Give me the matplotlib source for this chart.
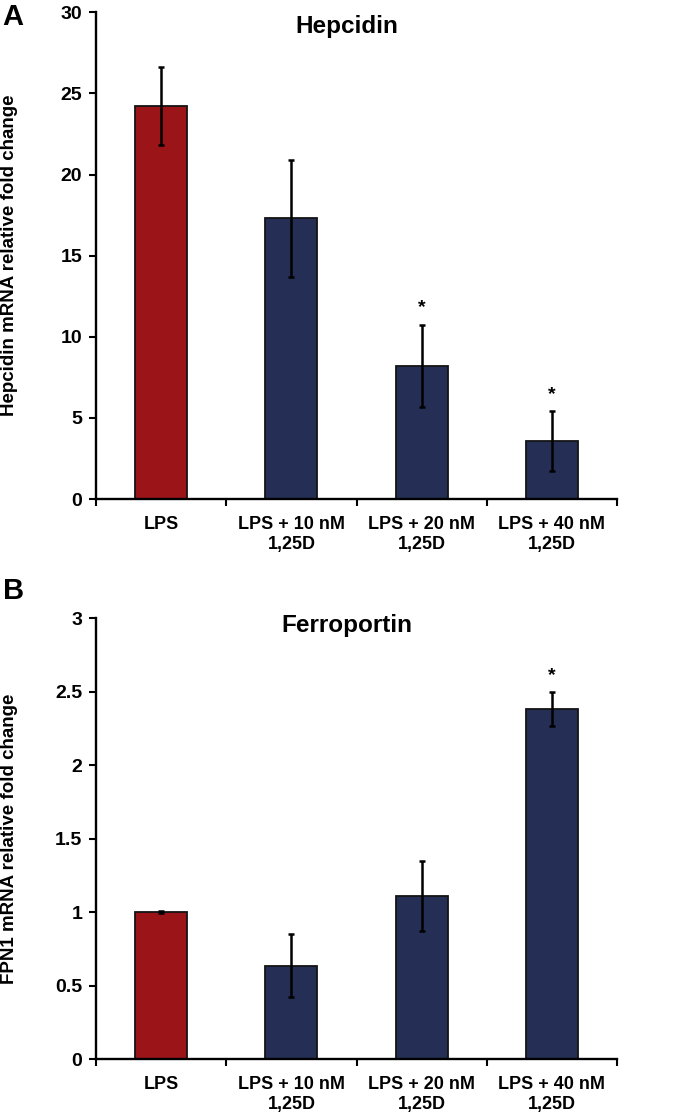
import matplotlib.pyplot as plt
import numpy as np

plt.rcParams['font.family'] = ['Liberation Sans', 'DejaVu Sans']
plt.rcParams['font.weight'] = 'bold'

categories = ['LPS', 'LPS + 10 nM\n1,25D', 'LPS + 20 nM\n1,25D', 'LPS + 40 nM\n1,25D']
bar_colors = ['#9a1418', '#252f55', '#252f55', '#252f55']

hepcidin = [24.2, 17.3, 8.2, 3.55]
hepcidin_err = [2.4, 3.6, 2.55, 1.85]
hepcidin_sig = [False, False, True, True]

fpn1 = [1.0, 0.635, 1.11, 2.38]
fpn1_err = [0.005, 0.215, 0.24, 0.115]
fpn1_sig = [False, False, False, True]


def draw_panel(ax, vals, errs, sig, ymax, step, title, title_y, ylabel):
    x = np.arange(len(vals))
    ax.bar(x, vals, width=0.4, color=bar_colors, edgecolor='#141414', linewidth=1.3,
           yerr=errs, error_kw=dict(ecolor='black', elinewidth=1.8, capsize=2.5, capthick=1.8))
    for i in range(len(vals)):
        if sig[i]:
            ax.annotate('*', (x[i], vals[i] + errs[i]), xytext=(0, 9),
                        textcoords='offset points', ha='center', va='baseline',
                        fontsize=14, fontweight='bold')
    ax.set_xlim(-0.5, len(vals) - 0.5)
    ax.set_ylim(0, ymax)
    yt = np.arange(0, ymax + step / 2, step)
    ax.set_yticks(yt)
    ax.set_yticklabels(['%g' % v for v in yt], fontsize=14)
    ax.set_xticks(np.arange(-0.5, len(vals), 1.0))
    ax.set_xticklabels([])
    ax.set_xticks(x, minor=True)
    ax.set_xticklabels(categories, minor=True, fontsize=13, linespacing=1.25)
    ax.tick_params(axis='x', which='major', length=5, width=1.5, direction='out')
    ax.tick_params(axis='x', which='minor', length=0, pad=12)
    ax.tick_params(axis='y', length=5, width=1.5, direction='out', pad=5)
    for s in ['top', 'right']:
        ax.spines[s].set_visible(False)
    for s in ['left', 'bottom']:
        ax.spines[s].set_linewidth(1.7)
    ax.text(0.482, title_y, title, transform=ax.transAxes, ha='center', va='center',
            fontsize=17.5, fontweight='bold')
    ax.set_ylabel(ylabel, fontsize=13.5, fontweight='bold')
    ax.yaxis.set_label_coords(-0.150, 0.5)


fig = plt.figure(figsize=(6.84, 11.19), dpi=100)
ax1 = fig.add_axes([0.1404, 0.554, 0.7616, 0.435])
ax2 = fig.add_axes([0.1404, 0.0536, 0.7616, 0.3941])

draw_panel(ax1, hepcidin, hepcidin_err, hepcidin_sig, 30, 5, 'Hepcidin', 0.971,
           'Hepcidin mRNA relative fold change')
draw_panel(ax2, fpn1, fpn1_err, fpn1_sig, 3, 0.5, 'Ferroportin', 0.984,
           'FPN1 mRNA relative fold change')

fig.text(0.004, 0.985, 'A', fontsize=21, fontweight='bold', va='center')
fig.text(0.004, 0.472, 'B', fontsize=21, fontweight='bold', va='center')

fig.savefig('out.png', dpi=100)
